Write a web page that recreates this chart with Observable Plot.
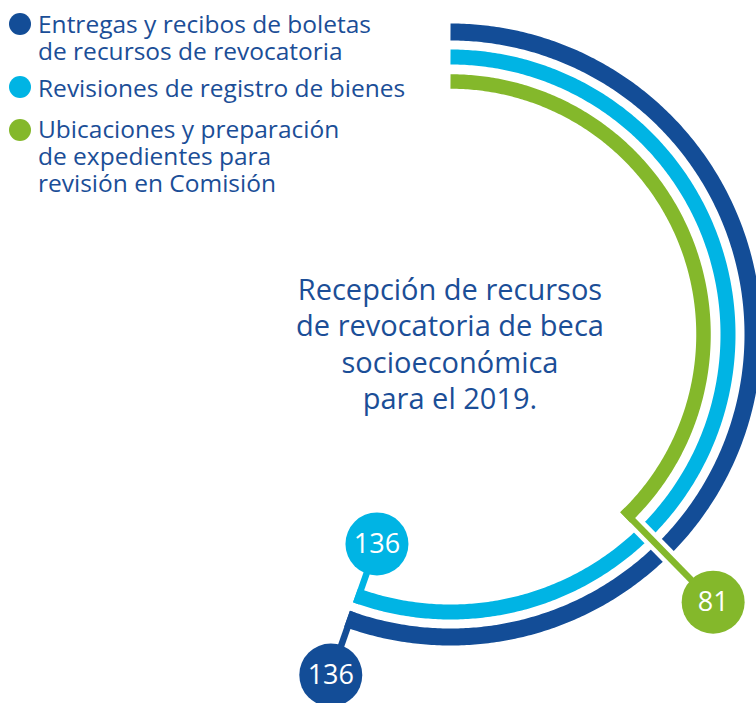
<!DOCTYPE html>
<html>
<head>
<meta charset="utf-8">
<script src="https://cdn.jsdelivr.net/npm/d3@7"></script>
<script src="https://cdn.jsdelivr.net/npm/@observablehq/plot@0.6"></script>
<style>
html, body { margin: 0; padding: 0; background: #fff; }
#wrap { position: relative; width: 756px; height: 703px; overflow: hidden; font-family: "Open Sans", sans-serif; }
#chart { position: absolute; left: 0; top: 0; }
.item { position: absolute; left: 38px; color: #1b4e97; font-size: 24.5px; line-height: 27px; white-space: nowrap; }
.sw { position: absolute; width: 22px; height: 22px; border-radius: 50%; }
#title { position: absolute; left: 250px; width: 400px; top: 270.5px; text-align: center; color: #1b4e97; font-size: 29px; line-height: 36.5px; }
</style>
</head>
<body>
<div id="wrap">
  <div id="chart"></div>
  <div id="legend"></div>
  <div id="title"></div>
</div>
<script>
// ---- data ----
const categories = [
  "Entregas y recibos de boletas de recursos de revocatoria",
  "Revisiones de registro de bienes",
  "Ubicaciones y preparación de expedientes para revisión en Comisión"
];
const values = [136, 136, 81];
const legendLines = [
  ["Entregas y recibos de boletas", "de recursos de revocatoria"],
  ["Revisiones de registro de bienes"],
  ["Ubicaciones y preparación", "de expedientes para", "revisión en Comisión"]
];
const titleLines = ["Recepción de recursos", "de revocatoria de beca", "socioeconómica", "para el 2019."];
const colors = ["#134d97", "#00b4e4", "#84b82b"];

// ---- layout ----
const W = 756, H = 703, cx = 450, cy = 334;
const rings = [
  {r: 302.5, w: 17,   dir: 1,  bubble: 361},
  {r: 277.5, w: 15,   dir: -1, bubble: 222},
  {r: 253,   w: 14.5, dir: 1,  bubble: 375}
];
const leaderW = 6.5, gap = 4.5, bubbleR = 31.5;

const angle = d3.scalePow().exponent(0.74).domain([0, d3.max(values)]).range([0, 200]);
const rad = Math.PI / 180;
const pol = (r, deg) => ({x: r * Math.sin(deg * rad), y: r * Math.cos(deg * rad)});

const series = values.map((v, i) => {
  const a = angle(v);
  const ring = rings[i];
  const pts = d3.range(0, a, 0.5).concat([a]).map(d => pol(ring.r, d));
  const edge = ring.r - ring.dir * ring.w / 2;
  const la = a - (leaderW / 2) / edge / rad;
  const start = pol(edge, la);
  const end = pol(ring.bubble, la);
  const cStart = pol(ring.r + ring.dir * (ring.w / 2 + 0.5), la);
  const cEnd = pol(ring.bubble - ring.dir * 20, la);
  return {i, value: v, category: categories[i], color: colors[i], pts, w: ring.w,
          x1: start.x, y1: start.y, x2: end.x, y2: end.y,
          cx1: cStart.x, cy1: cStart.y, cx2: cEnd.x, cy2: cEnd.y};
});

const marks = [];
series.forEach(s => {
  marks.push(Plot.line(s.pts, {x: "x", y: "y", stroke: s.color, strokeWidth: s.w, strokeLinecap: "butt", strokeLinejoin: "round"}));
});
marks.push(Plot.link(series, {x1: "cx1", y1: "cy1", x2: "cx2", y2: "cy2", stroke: "white", strokeWidth: leaderW + 2 * gap, strokeLinecap: "butt"}));
marks.push(Plot.link(series, {x1: "x1", y1: "y1", x2: "x2", y2: "y2", stroke: "color", strokeWidth: leaderW, strokeLinecap: "butt"}));
marks.push(Plot.dot(series, {x: "x2", y: "y2", r: bubbleR, fill: "color", stroke: null}));
marks.push(Plot.text(series, {x: "x2", y: "y2", text: d => String(d.value), fill: "white", fontSize: 27, fontFamily: "Open Sans"}));

const chart = Plot.plot({
  width: W, height: H, margin: 0,
  x: {domain: [-cx, W - cx], axis: null},
  y: {domain: [cy - H, cy], axis: null},
  color: {type: "identity"},
  marks
});
document.getElementById("chart").appendChild(chart);

// ---- legend ----
const legend = document.getElementById("legend");
const itemTops = [10, 74, 115];
const dotCenters = [24, 86.5, 129.5];
legendLines.forEach((lines, i) => {
  const sw = document.createElement("div");
  sw.className = "sw";
  sw.style.left = (20 - 11) + "px";
  sw.style.top = (dotCenters[i] - 11) + "px";
  sw.style.background = colors[i];
  legend.appendChild(sw);
  const it = document.createElement("div");
  it.className = "item";
  it.style.top = itemTops[i] + "px";
  it.innerHTML = lines.join("<br>");
  legend.appendChild(it);
});
document.getElementById("title").innerHTML = titleLines.join("<br>");
</script>
</body>
</html>
